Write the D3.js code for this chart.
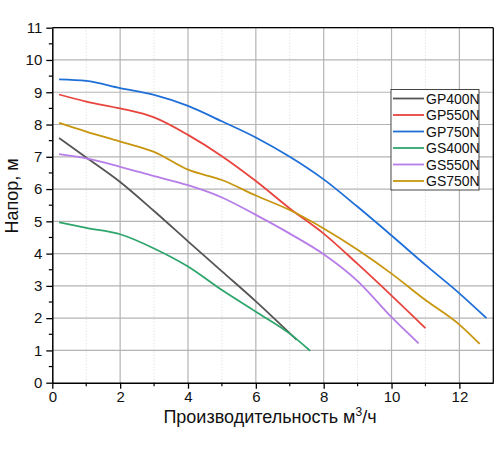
<!DOCTYPE html>
<html><head><meta charset="utf-8">
<script src="https://cdn.jsdelivr.net/npm/d3@7"></script>
<style>body{margin:0;background:#fff}svg{display:block;font-family:"Liberation Sans",Arial,sans-serif}</style>
</head><body><svg id="c" width="500" height="450"></svg>
<script>
const seriesNames = ["GP400N","GP550N","GP750N","GS400N","GS550N","GS750N"];
const seriesColors = ["#555555","#e8453f","#1f6fd8","#2ea66b","#b77de8","#c8960e"];
const gp400 = [[0.2,7.58],[1,6.98],[2,6.22],[3,5.32],[4,4.38],[5,3.45],[6,2.52],[7.2,1.33]];
const gp550 = [[0.2,8.93],[1,8.71],[2,8.5],[3,8.22],[4,7.68],[5,7.02],[6,6.25],[7,5.4],[8,4.62],[9,3.68],[10,2.7],[11,1.69]];
const gp750 = [[0.2,9.4],[1,9.35],[2,9.13],[3,8.92],[4,8.58],[5,8.1],[6,7.6],[7,7.0],[8,6.3],[9,5.45],[10,4.56],[11,3.65],[12,2.77],[12.8,2.0]];
const gs400 = [[0.2,4.97],[1,4.8],[2,4.6],[3,4.16],[4,3.6],[5,2.87],[6,2.2],[7,1.52],[7.6,0.99]];
const gs550 = [[0.2,7.08],[1,6.95],[2,6.69],[3,6.4],[4,6.12],[5,5.74],[6,5.2],[7,4.62],[8,3.98],[9,3.15],[10,2.03],[10.8,1.22]];
const gs750 = [[0.2,8.05],[1,7.78],[2,7.47],[3,7.15],[4,6.6],[5,6.28],[6,5.8],[7,5.35],[8,4.78],[9,4.12],[10,3.38],[11,2.56],[12,1.8],[12.6,1.2]];
const allSeries = [gp400,gp550,gp750,gs400,gs550,gs750];
const xTicks = [0,2,4,6,8,10,12];
const yTicks = [0,1,2,3,4,5,6,7,8,9,10,11];
const xLabel = "Производительность м";
const yLabel = "Напор, м";

const svg = d3.select("#c");
const L=52.3, R=493.3, T=27.7, B=382.7;
const x = d3.scaleLinear().domain([0,13]).range([L,R]);
const y = d3.scaleLinear().domain([0,11]).range([B,T]);

const g = svg.append("g");
d3.range(1,13,2).forEach(v=>{
  g.append("line").attr("x1",x(v)).attr("x2",x(v)).attr("y1",T).attr("y2",B)
   .attr("stroke","#d0d0d0").attr("stroke-width",0.8).attr("stroke-dasharray","1,2");
});
xTicks.slice(1).forEach(v=>{
  g.append("line").attr("x1",x(v)).attr("x2",x(v)).attr("y1",T).attr("y2",B)
   .attr("stroke","#b4b4b4").attr("stroke-width",1.2);
});
yTicks.slice(1).forEach(v=>{
  g.append("line").attr("x1",L).attr("x2",R).attr("y1",y(v)).attr("y2",y(v))
   .attr("stroke","#b4b4b4").attr("stroke-width",1.2);
});

svg.append("line").attr("x1",L).attr("x2",R).attr("y1",T).attr("y2",T).attr("stroke","#000").attr("stroke-width",1.3);
svg.append("line").attr("x1",R).attr("x2",R).attr("y1",T).attr("y2",B).attr("stroke","#000").attr("stroke-width",1.3);

const line = d3.line().x(d=>x(d[0])).y(d=>y(d[1])).curve(d3.curveMonotoneX);
allSeries.forEach((s,i)=>{
  svg.append("path").datum(s).attr("d",line).attr("fill","none")
    .attr("stroke",seriesColors[i]).attr("stroke-width",1.8);
});

const xAxis = d3.axisBottom(x).tickValues(xTicks).tickSize(6).tickSizeOuter(0).tickPadding(3);
const xa = svg.append("g").attr("transform",`translate(0,${B})`).call(xAxis);
const yAxis = d3.axisLeft(y).tickValues(yTicks).tickSize(6).tickSizeOuter(0).tickPadding(4);
const ya = svg.append("g").attr("transform",`translate(${L},0)`).call(yAxis);
[xa,ya].forEach(a=>{
  a.select(".domain").attr("stroke","#000").attr("stroke-width",1.5);
  a.selectAll(".tick line").attr("stroke","#000").attr("stroke-width",1.3);
  a.selectAll("text").attr("font-size",15).attr("fill","#111").attr("font-family","Liberation Sans, Arial, sans-serif");
});
d3.range(1,13,2).forEach(v=>{
  svg.append("line").attr("x1",x(v)).attr("x2",x(v)).attr("y1",B).attr("y2",B+3.5).attr("stroke","#000").attr("stroke-width",1.2);
});
d3.range(0.5,11,1).forEach(v=>{
  svg.append("line").attr("x1",L).attr("x2",L-3.5).attr("y1",y(v)).attr("y2",y(v)).attr("stroke","#000").attr("stroke-width",1.2);
});

const xl = svg.append("text").attr("x",270).attr("y",423).attr("text-anchor","middle")
  .attr("font-size",18).attr("fill","#111");
xl.append("tspan").text(xLabel);
xl.append("tspan").text("3").attr("font-size",12).attr("dy",-7);
xl.append("tspan").text("/ч").attr("dy",7);
svg.append("text").attr("transform","translate(17.5,196) rotate(-90)").attr("text-anchor","middle")
  .attr("font-size",18).attr("fill","#111").text(yLabel);

const lg = svg.append("g");
lg.append("rect").attr("x",391).attr("y",89.5).attr("width",88).attr("height",100.5)
  .attr("fill","#fff").attr("stroke","#333").attr("stroke-width",0.9);
seriesNames.forEach((n,i)=>{
  const yy = 98.5 + i*16.5;
  lg.append("line").attr("x1",393).attr("x2",424).attr("y1",yy).attr("y2",yy)
    .attr("stroke",seriesColors[i]).attr("stroke-width",1.8);
  lg.append("text").attr("x",426).attr("y",yy+5).attr("font-size",14).attr("fill","#111").text(n);
});
</script></body></html>
